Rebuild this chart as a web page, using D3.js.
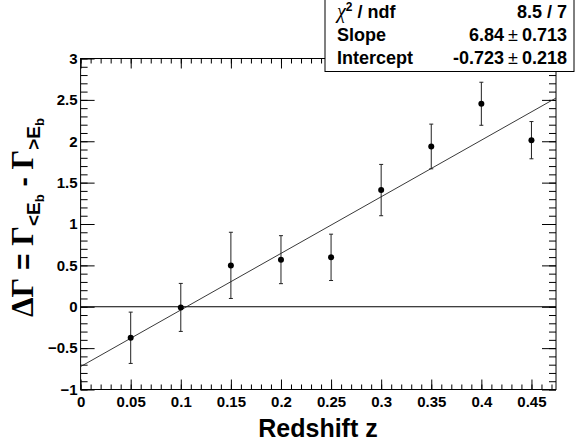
<!DOCTYPE html>
<html><head><meta charset="utf-8">
<script src="https://cdn.jsdelivr.net/npm/d3@7"></script>
<style>
body{margin:0;background:#fff;}
svg{display:block;}
text{font-family:"Liberation Sans",Arial,Helvetica,sans-serif;font-weight:bold;fill:#000;}
</style></head>
<body>
<script>
// Data
const redshift = [0.05, 0.10, 0.15, 0.20, 0.25, 0.30, 0.35, 0.40, 0.45];
const deltaGamma = [-0.375, -0.008, 0.50, 0.569, 0.597, 1.41, 1.937, 2.453, 2.013];
const deltaGammaErr = [0.31, 0.29, 0.40, 0.29, 0.28, 0.31, 0.27, 0.26, 0.225];
const fitSlope = 6.84;
const fitIntercept = -0.723;
const xTicks = [0, 0.05, 0.1, 0.15, 0.2, 0.25, 0.3, 0.35, 0.4, 0.45];
const yTicks = [-1, -0.5, 0, 0.5, 1, 1.5, 2, 2.5, 3];
const statLabels = ["χ² / ndf", "Slope", "Intercept"];
const statValues = ["8.5 / 7", "6.84 ± 0.713", "-0.723 ± 0.218"];

const W = 575, H = 448;
const fx0 = 80.6, fx1 = 556, fy0 = 58.5, fy1 = 389.5;
const xDomain = [0, 0.4745], yDomain = [-1, 3];

const svg = d3.select("body").append("svg").attr("width", W).attr("height", H);
const x = d3.scaleLinear().domain(xDomain).range([fx0, fx1]);
const y = d3.scaleLinear().domain(yDomain).range([fy1, fy0]);

const xMinor = d3.range(0, 0.4745 + 1e-9, 0.01);
const yMinor = d3.range(-1, 3 + 1e-9, 0.1);

function styleAxis(g){
  g.select(".domain").remove();
  g.selectAll(".tick line").attr("stroke", "#000").attr("stroke-width", 1);
  g.selectAll(".tick text").style("font-size", "15px").style("font-weight", "bold").attr("font-family", "Liberation Sans, Arial, sans-serif");
}
// bottom axis major
svg.append("g").attr("transform", `translate(0,${fy1})`)
  .call(d3.axisBottom(x).tickValues(xTicks).tickSize(-10).tickPadding(20).tickFormat(d3.format("")))
  .call(styleAxis)
  .call(g => g.selectAll(".tick text").attr("dy", "0.71em").attr("y", 7));
svg.append("g").attr("transform", `translate(0,${fy1})`)
  .call(d3.axisBottom(x).tickValues(xMinor).tickSize(-5).tickFormat(""))
  .call(styleAxis);
// top axis
svg.append("g").attr("transform", `translate(0,${fy0})`)
  .call(d3.axisTop(x).tickValues(xTicks).tickSize(-10).tickFormat(""))
  .call(styleAxis);
svg.append("g").attr("transform", `translate(0,${fy0})`)
  .call(d3.axisTop(x).tickValues(xMinor).tickSize(-5).tickFormat(""))
  .call(styleAxis);
// left axis
svg.append("g").attr("transform", `translate(${fx0},0)`)
  .call(d3.axisLeft(y).tickValues(yTicks).tickSize(-14).tickPadding(4).tickFormat(d3.format("")))
  .call(styleAxis)
  .call(g => g.selectAll(".tick text").attr("x", -3));
svg.append("g").attr("transform", `translate(${fx0},0)`)
  .call(d3.axisLeft(y).tickValues(yMinor).tickSize(-7).tickFormat(""))
  .call(styleAxis);
// right axis
svg.append("g").attr("transform", `translate(${fx1},0)`)
  .call(d3.axisRight(y).tickValues(yTicks).tickSize(-14).tickFormat(""))
  .call(styleAxis);
svg.append("g").attr("transform", `translate(${fx1},0)`)
  .call(d3.axisRight(y).tickValues(yMinor).tickSize(-7).tickFormat(""))
  .call(styleAxis);

// frame
svg.append("rect").attr("x", fx0).attr("y", fy0).attr("width", fx1 - fx0).attr("height", fy1 - fy0)
  .attr("fill", "none").attr("stroke", "#000").attr("stroke-width", 1);

// zero line
svg.append("line").attr("x1", x(xDomain[0])).attr("x2", x(xDomain[1])).attr("y1", y(0)).attr("y2", y(0))
  .attr("stroke", "#000").attr("stroke-width", 1.2);

// fit line
svg.append("line").attr("x1", x(xDomain[0])).attr("x2", x(xDomain[1]))
  .attr("y1", y(fitIntercept + fitSlope * xDomain[0])).attr("y2", y(fitIntercept + fitSlope * xDomain[1]))
  .attr("stroke", "#222").attr("stroke-width", 0.9);

// error bars
const pts = redshift.map((z, i) => ({z, v: deltaGamma[i], e: deltaGammaErr[i]}));
const eb = svg.append("g").attr("stroke", "#222").attr("stroke-width", 1);
pts.forEach(p => {
  eb.append("line").attr("x1", x(p.z)).attr("x2", x(p.z)).attr("y1", y(p.v - p.e)).attr("y2", y(p.v + p.e));
  [p.v - p.e, p.v + p.e].forEach(v => {
    eb.append("line").attr("x1", x(p.z) - 2).attr("x2", x(p.z) + 2).attr("y1", y(v)).attr("y2", y(v));
  });
});
svg.append("g").selectAll("circle").data(pts).join("circle")
  .attr("cx", d => x(d.z)).attr("cy", d => y(d.v)).attr("r", 3).attr("fill", "#000");

// x title
svg.append("text").attr("x", 318).attr("y", 437).attr("text-anchor", "middle")
  .style("font-size", "25px").text("Redshift z");

// y title
const serif = "Liberation Serif, Times New Roman, serif";
const yt = svg.append("text").attr("transform", "translate(33,118) rotate(-90)").attr("text-anchor", "end")
  .style("font-size", "28px");
yt.append("tspan").attr("font-family", serif).style("font-size", "31px").text("ΔΓ");
yt.append("tspan").text(" = ");
yt.append("tspan").attr("font-family", serif).style("font-size", "31px").text("Γ");
yt.append("tspan").style("font-size", "19px").attr("dy", 7).text("<E");
yt.append("tspan").style("font-size", "13px").attr("dy", 4).text("b");
yt.append("tspan").attr("dy", -11).text(" - ");
yt.append("tspan").attr("font-family", serif).style("font-size", "31px").text("Γ");
yt.append("tspan").style("font-size", "19px").attr("dy", 7).text(">E");
yt.append("tspan").style("font-size", "13px").attr("dy", 4).text("b");

// stats box
const bx0 = 325, bx1 = 574, by0 = -1, by1 = 71.5;
svg.append("rect").attr("x", bx0).attr("y", by0).attr("width", bx1 - bx0).attr("height", by1 - by0)
  .attr("fill", "#fff").attr("stroke", "#000").attr("stroke-width", 1);
const rowY = [18, 41, 64];
statLabels.forEach((s, i) => {
  const t = svg.append("text").attr("x", 337).attr("y", rowY[i]).style("font-size", "18px");
  if (i === 0) {
    t.append("tspan").attr("font-family", serif).style("font-style", "italic").style("font-weight", "normal").style("font-size", "20px").text("χ");
    t.append("tspan").style("font-size", "12px").attr("dy", -7).text("2");
    t.append("tspan").attr("dy", 7).text(" / ndf");
  } else {
    t.text(s);
  }
});
statValues.forEach((s, i) => {
  const t = svg.append("text").attr("x", 567).attr("y", rowY[i]).attr("text-anchor", "end").style("font-size", "18px");
  const parts = s.split("±");
  if (parts.length === 2) {
    t.append("tspan").text(parts[0].trim());
    t.append("tspan").style("font-weight", "normal").attr("dx", 4).text("±");
    t.append("tspan").attr("dx", 4).text(parts[1].trim());
  } else t.text(s);
});
</script>
</body></html>
